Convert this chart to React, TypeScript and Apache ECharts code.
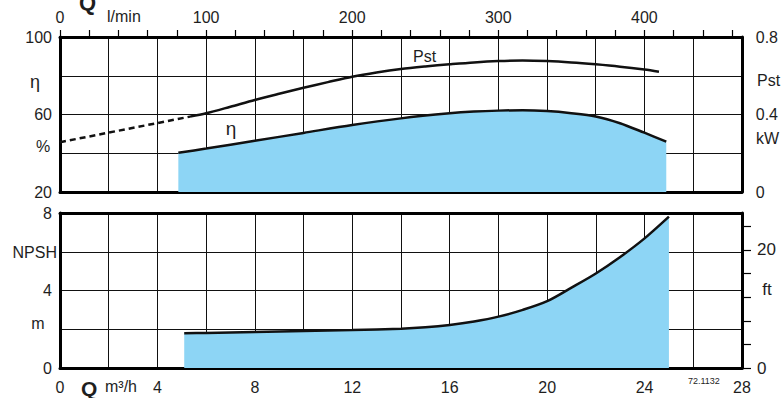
import React, { useEffect, useRef } from "react";
import * as echarts from "echarts";

// Power curve Pst (kW) vs Q (m³/h)
const pstDashQ = [0, 5.34];
const pstDashKw = [0.257, 0.389];
const pstQ = [5.34, 6, 7, 8, 9, 10, 11, 12, 13, 14, 15, 16, 17, 18, 19, 20, 21, 22, 23, 24, 24.6];
const pstKw = [0.389, 0.406, 0.44, 0.475, 0.507, 0.538, 0.567, 0.595, 0.617, 0.635, 0.648, 0.659, 0.669, 0.676, 0.679, 0.676, 0.669, 0.659, 0.647, 0.632, 0.621];

// Efficiency η (%) vs Q
const etaQ = [4.86, 6, 8, 10, 12, 14, 16, 17, 18, 19, 20, 21, 22, 23, 24, 24.9];
const etaPct = [40.3, 42.4, 46.4, 50.5, 54.6, 58.0, 60.6, 61.5, 62.0, 62.2, 61.8, 60.7, 59.0, 55.5, 50.6, 46.0];

// NPSH (m) vs Q
const npshQ = [5.1, 6, 8, 10, 12, 14, 15, 16, 17, 18, 19, 20, 21, 22, 23, 24, 25];
const npshM = [1.79, 1.81, 1.86, 1.91, 1.96, 2.03, 2.1, 2.22, 2.4, 2.65, 3.0, 3.45, 4.15, 4.88, 5.73, 6.69, 7.81];

// Tick labels
const qLabels = [0, 4, 8, 12, 16, 20, 24, 28];
const lminLabels = [0, 100, 200, 300, 400];
const etaLabels = [100, 60, 20];
const kwLabels = ["0.8", "0.4", "0"];
const npshLabels = [8, 4, 0];
const ftLabels = [0, 20];

const FONT = "Liberation Sans";
const TXT = "#1e1e1e";
const FILL = "#8dd5f5";
const FS = 16;
const Q_MAX = 28;
const LMIN_MAX = (Q_MAX * 1000) / 60;
const FT_MAX = 8 / 0.3048;

const zip = (a: number[], b: number[]) => a.map((v, i) => [v, b[i]]);

export default function App() {
  const ref = useRef<HTMLDivElement>(null);
  useEffect(() => {
    if (!ref.current) return;
    const chart = echarts.init(ref.current, null, { renderer: "svg" });
    const lbl = () => ({ color: TXT, fontFamily: FONT, fontSize: FS });
    const thick = () => ({ show: true, onZero: false, lineStyle: { color: "#000", width: 3 } });
    const split = () => ({ show: true, lineStyle: { color: "#111", width: 1 } });
    const noSplit = () => ({ show: false });
    const noTick = () => ({ show: false });
    const txt = (text: string, x: number, y: number, align: string, extra: any = {}) => ({
      type: "text",
      x,
      y,
      style: {
        text,
        fill: TXT,
        font: `${extra.weight || "normal"} ${extra.size || FS}px "${FONT}"`,
        textAlign: align,
        textVerticalAlign: "middle",
      },
    });

    chart.setOption({
      animation: false,
      grid: [
        { left: 60, top: 37, width: 682, height: 155 },
        { left: 60, top: 213, width: 682, height: 155 },
      ],
      xAxis: [
        {
          gridIndex: 0, type: "value", position: "bottom", min: 0, max: Q_MAX, interval: 2,
          axisLine: thick(), axisTick: noTick(), axisLabel: { show: false }, splitLine: split(),
        },
        {
          // l/min scale on the top edge: ticks every 20 l/min, labels every 100
          gridIndex: 0, type: "value", position: "top", min: 0, max: LMIN_MAX, interval: 20,
          axisLine: thick(),
          axisTick: { show: true, inside: false, length: 7, interval: 0, lineStyle: { color: "#000", width: 1.2 } },
          minorTick: { show: false },
          axisLabel: {
            ...lbl(), margin: 12, showMaxLabel: false, interval: 0, hideOverlap: false,
            formatter: (v: number) => (lminLabels.includes(Math.round(v)) && Math.abs(v - Math.round(v)) < 1e-6 ? String(Math.round(v)) : ""),
          },
          splitLine: noSplit(),
          z: 10,
        },
        {
          gridIndex: 1, type: "value", position: "bottom", min: 0, max: Q_MAX, interval: 2,
          axisLine: thick(), axisTick: noTick(),
          axisLabel: {
            ...lbl(), margin: 11,
            formatter: (v: number) => (qLabels.includes(v) ? String(v) : ""),
          },
          splitLine: split(),
        },
        {
          gridIndex: 1, type: "value", position: "top", min: 0, max: Q_MAX, interval: 2,
          axisLine: thick(), axisTick: noTick(), axisLabel: { show: false }, splitLine: noSplit(),
        },
      ],
      yAxis: [
        {
          gridIndex: 0, type: "value", position: "left", min: 20, max: 100, interval: 20,
          axisLine: thick(), axisTick: noTick(), splitLine: split(),
          axisLabel: { ...lbl(), margin: 8, formatter: (v: number) => (etaLabels.includes(v) ? String(v) : "") },
        },
        {
          gridIndex: 0, type: "value", position: "right", min: 0, max: 0.8, interval: 0.2,
          axisLine: thick(), axisTick: noTick(), splitLine: noSplit(),
          axisLabel: {
            ...lbl(), margin: 14,
            formatter: (v: number) => {
              const r = String(Math.round(v * 10) / 10);
              return kwLabels.includes(r) ? r : "";
            },
          },
        },
        {
          gridIndex: 1, type: "value", position: "left", min: 0, max: 8, interval: 2,
          axisLine: thick(), axisTick: noTick(), splitLine: split(),
          axisLabel: { ...lbl(), margin: 8, formatter: (v: number) => (npshLabels.includes(v) ? String(v) : "") },
        },
        {
          gridIndex: 1, type: "value", position: "right", min: 0, max: FT_MAX, interval: 4,
          axisLine: thick(),
          axisTick: { show: true, inside: false, length: 9, lineStyle: { color: "#000", width: 1.2 } },
          splitLine: noSplit(),
          axisLabel: {
            ...lbl(), fontSize: 17, margin: 15, showMaxLabel: false,
            formatter: (v: number) => (ftLabels.includes(v) ? String(v) : ""),
          },
        },
      ],
      series: [
        {
          type: "line", xAxisIndex: 0, yAxisIndex: 0, data: zip(etaQ, etaPct),
          smooth: 0.3, symbol: "none",
          lineStyle: { color: "#111", width: 2.5 },
          areaStyle: { color: FILL, opacity: 1, origin: "start" },
          z: 2,
        },
        {
          type: "line", xAxisIndex: 0, yAxisIndex: 1, data: zip(pstDashQ, pstDashKw),
          symbol: "none",
          lineStyle: { color: "#111", width: 2.5, type: [6, 4] },
          z: 3,
        },
        {
          type: "line", xAxisIndex: 0, yAxisIndex: 1, data: zip(pstQ, pstKw),
          smooth: 0.3, symbol: "none",
          lineStyle: { color: "#111", width: 2.5 },
          z: 3,
        },
        {
          type: "line", xAxisIndex: 2, yAxisIndex: 2, data: zip(npshQ, npshM),
          smooth: 0.3, symbol: "none",
          lineStyle: { color: "#111", width: 2.5 },
          areaStyle: { color: FILL, opacity: 1, origin: "start" },
          z: 2,
        },
      ],
      graphic: [
        txt("η", 35, 82, "center", { size: 18 }),
        txt("%", 43, 146, "center"),
        txt("NPSH", 57, 252, "right"),
        txt("m", 38, 323, "center"),
        txt("Pst", 757, 80, "left"),
        txt("kW", 756, 138, "left"),
        txt("ft", 767, 289, "center", { size: 17 }),
        txt("Pst", 413, 56, "left"),
        txt("η", 231, 128, "center", { size: 19 }),
        txt("Q", 79, 2, "left", { size: 22, weight: "bold" }),
        txt("l/min", 107, 16, "left"),
        txt("Q", 81, 388, "left", { size: 21, weight: "bold" }),
        txt("m³/h", 105, 386, "left"),
        txt("72.1132", 688, 381, "left", { size: 9 }),
      ],
    });
    return () => chart.dispose();
  }, []);
  return (
    <div
      ref={ref}
      style={{ position: "fixed", left: 0, top: 0, width: 781, height: 398, background: "#fff" }}
    />
  );
}
